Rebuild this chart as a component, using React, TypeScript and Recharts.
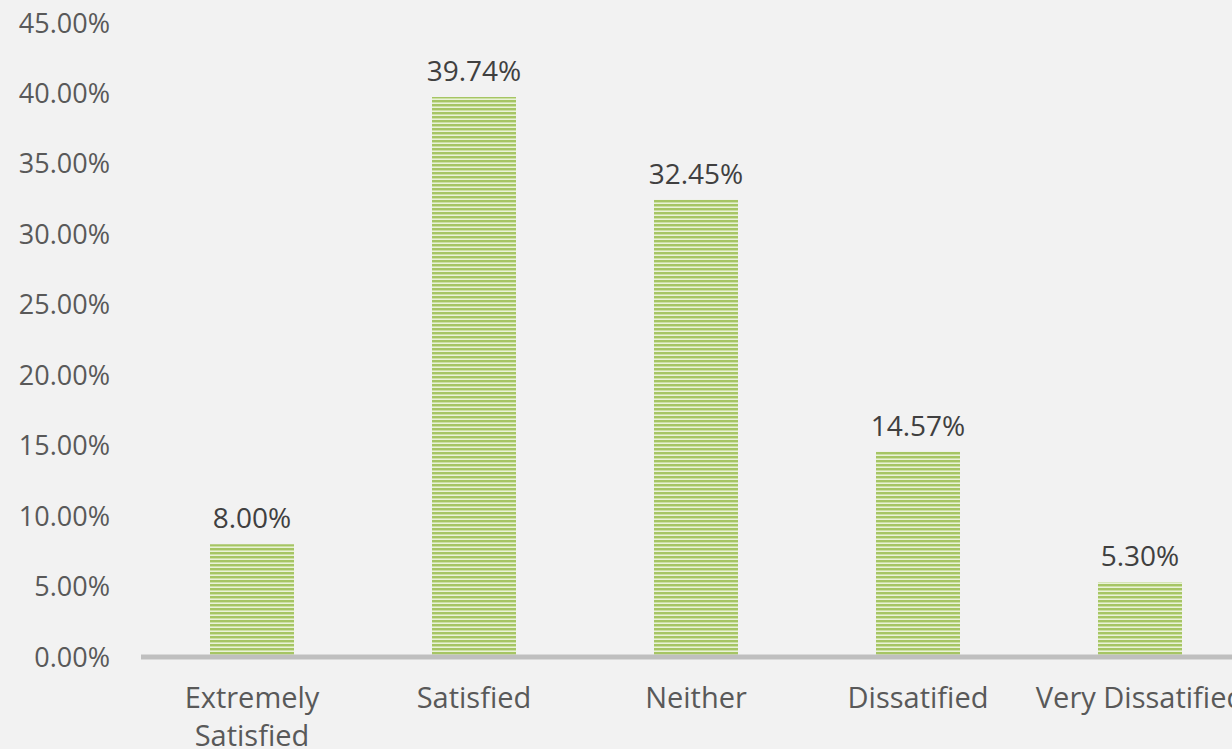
import React from 'react';
import { BarChart, Bar, XAxis, YAxis, LabelList } from 'recharts';

const categories = ['Extremely Satisfied', 'Satisfied', 'Neither', 'Dissatified', 'Very Dissatified'];
const values = [8.0, 39.74, 32.45, 14.57, 5.3];
const yTicks = [0, 5, 10, 15, 20, 25, 30, 35, 40, 45];

const data = categories.map((c, i) => ({ name: c, value: values[i] }));

const FONT = '"Open Sans", sans-serif';
const XFONT_SIZE = 29;
const BAND = 222;

let ctx: CanvasRenderingContext2D | null = null;
function measure(s: string): number {
  if (!ctx) {
    const c = document.createElement('canvas');
    ctx = c.getContext('2d');
  }
  if (!ctx) return s.length * XFONT_SIZE * 0.55;
  ctx.font = `${XFONT_SIZE}px ${FONT}`;
  return ctx.measureText(s).width;
}

function wrap(label: string, maxW: number): string[] {
  const words = label.split(' ');
  const lines: string[] = [];
  let cur = '';
  for (const w of words) {
    const t = cur ? cur + ' ' + w : w;
    if (cur && measure(t) > maxW) {
      lines.push(cur);
      cur = w;
    } else {
      cur = t;
    }
  }
  if (cur) lines.push(cur);
  return lines;
}

const XTick = (props: any) => {
  const { x, y, payload } = props;
  const lines = wrap(String(payload.value), BAND);
  return (
    <text
      x={x}
      y={y}
      textAnchor="middle"
      fill="#595959"
      fontSize={XFONT_SIZE}
      fontFamily={FONT}
    >
      {lines.map((l, i) => (
        <tspan key={i} x={x} dy={i === 0 ? '0.71em' : 38}>
          {l}
        </tspan>
      ))}
    </text>
  );
};

export default function App() {
  return (
    <div
      style={{
        position: 'absolute',
        left: 0,
        top: 0,
        width: 1232,
        height: 749,
        overflow: 'hidden',
        background: '#f2f2f2',
      }}
    >
      <BarChart
        width={1251}
        height={749}
        data={data}
        margin={{ top: 23, right: 0, bottom: 0, left: 0 }}
        barSize={84}
      >
        <defs>
          <pattern id="stripes" x="0" y="0" width="8" height="4" patternUnits="userSpaceOnUse">
            <rect x="0" y="0" width="8" height="4" fill="#a6c564" />
            <rect x="0" y="2" width="8" height="1" fill="#cde0a4" />
            <rect x="0" y="3" width="8" height="1" fill="#e9f2d8" />
          </pattern>
        </defs>
        <YAxis
          width={141}
          domain={[0, 45]}
          ticks={yTicks}
          interval={0}
          axisLine={false}
          tickLine={false}
          tickSize={0}
          tickMargin={31}
          tickFormatter={(v: number) => v.toFixed(2) + '%'}
          tick={{ fill: '#595959', fontSize: 27, fontFamily: FONT }}
        />
        <XAxis
          dataKey="name"
          height={92}
          axisLine={{ stroke: '#bfbfbf', strokeWidth: 5 }}
          tickLine={false}
          tickSize={0}
          tickMargin={30}
          interval={0}
          tick={<XTick />}
        />
        <Bar dataKey="value" fill="url(#stripes)" isAnimationActive={false}>
          <LabelList
            dataKey="value"
            position="top"
            offset={16}
            formatter={(v: any) => Number(v).toFixed(2) + '%'}
            fill="#404040"
            fontSize={28}
            fontFamily={FONT}
          />
        </Bar>
      </BarChart>
    </div>
  );
}
